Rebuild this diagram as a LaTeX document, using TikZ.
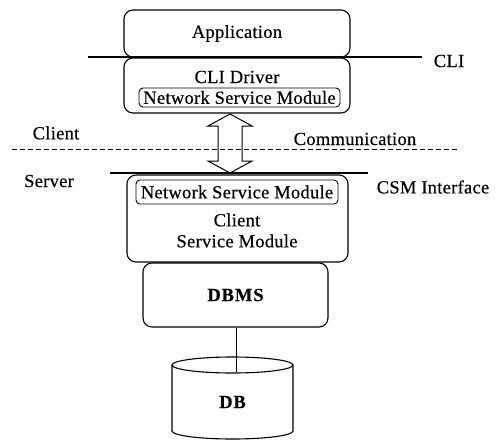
\documentclass[tikz,border=0pt]{standalone}
\usepackage{fontspec}
\setmainfont[LetterSpace=1.5, FakeBold=0.4]{Liberation Serif}
\newfontfamily\boldlbl[LetterSpace=5, FakeBold=0.4]{Liberation Serif}
\begin{document}
\begin{tikzpicture}[x=1pt,y=-1pt,
  every node/.style={font=\fontsize{18.5}{21}\selectfont},
  box/.style={draw, rounded corners=9pt, line width=1.1pt, inner sep=0pt},
  inbox/.style={draw, rounded corners=4pt, line width=0.9pt, inner sep=0pt},
  lbl/.style={inner sep=0pt},
  boldtext/.style={font=\fontsize{18.5}{21}\boldlbl\bfseries},
  rule/.style={line width=1.1pt},
  commline/.style={line width=0.9pt, dash pattern=on 5pt off 3pt}]
\useasboundingbox (0,0) rectangle (497,441);

% upper stack
\node[box, minimum width=226pt, minimum height=47pt] (app) at (237,33.5) {Application};
\node[box, minimum width=226pt, minimum height=55pt] (cli) at (237,85.5) {};
\node[lbl] (clitxt) at (237,77) {CLI Driver};
\node[inbox, minimum width=201pt, minimum height=19pt] (nsm1) at (239.5,97.5) {Network Service Module};

% CLI interface line
\coordinate (cliL) at (88,57);
\coordinate (cliR) at (422,57);
\draw[rule] (cliL) -- (cliR);
\node[lbl] (clilbl) at (449,61) {CLI};

% client / server separation
\coordinate (dashL) at (12,149);
\coordinate (dashR) at (457,149);
\draw[commline] (dashL) -- (dashR);
\node[lbl] (client) at (56,133) {Client};
\node[lbl] (server) at (49,181) {Server};
\node[lbl] (comm) at (355,139) {Communication};

% double arrow
\draw[line width=1pt, line join=miter]
  (230,114) -- (252,126) -- (242,126) -- (242,161) -- (252,161) -- (230,173)
  -- (208,161) -- (218,161) -- (218,126) -- (208,126) -- cycle;

% CSM interface line
\coordinate (srvL) at (110,173);
\coordinate (srvR) at (368,173);
\draw[rule] (srvL) -- (srvR);
\node[lbl] (csmlbl) at (433,187) {CSM Interface};

% lower stack
\node[box, minimum width=221pt, minimum height=87pt] (csm) at (237.5,218.5) {};
\node[inbox, minimum width=202pt, minimum height=24pt] (nsm2) at (237,192) {Network Service Module};
\node[lbl, align=center] (csmtxt) at (237,230.5) {Client\\Service Module};
\node[box, boldtext, minimum width=185pt, minimum height=64pt] (dbms) at (235.5,295) {DBMS};

% database cylinder
\draw[line width=1.1pt] (172,365) -- (172,431) arc[start angle=180, end angle=0, x radius=60.5, y radius=8] -- (293,365);
\draw[line width=1.1pt] (232.5,365) ellipse [x radius=60.5, y radius=8];
\node[lbl, boldtext] (db) at (232.5,402) {DB};
\coordinate (dbtop) at (236,372);
\draw[line width=0.9pt] (dbms.south -| dbtop) -- (dbtop);
\end{tikzpicture}
\end{document}
